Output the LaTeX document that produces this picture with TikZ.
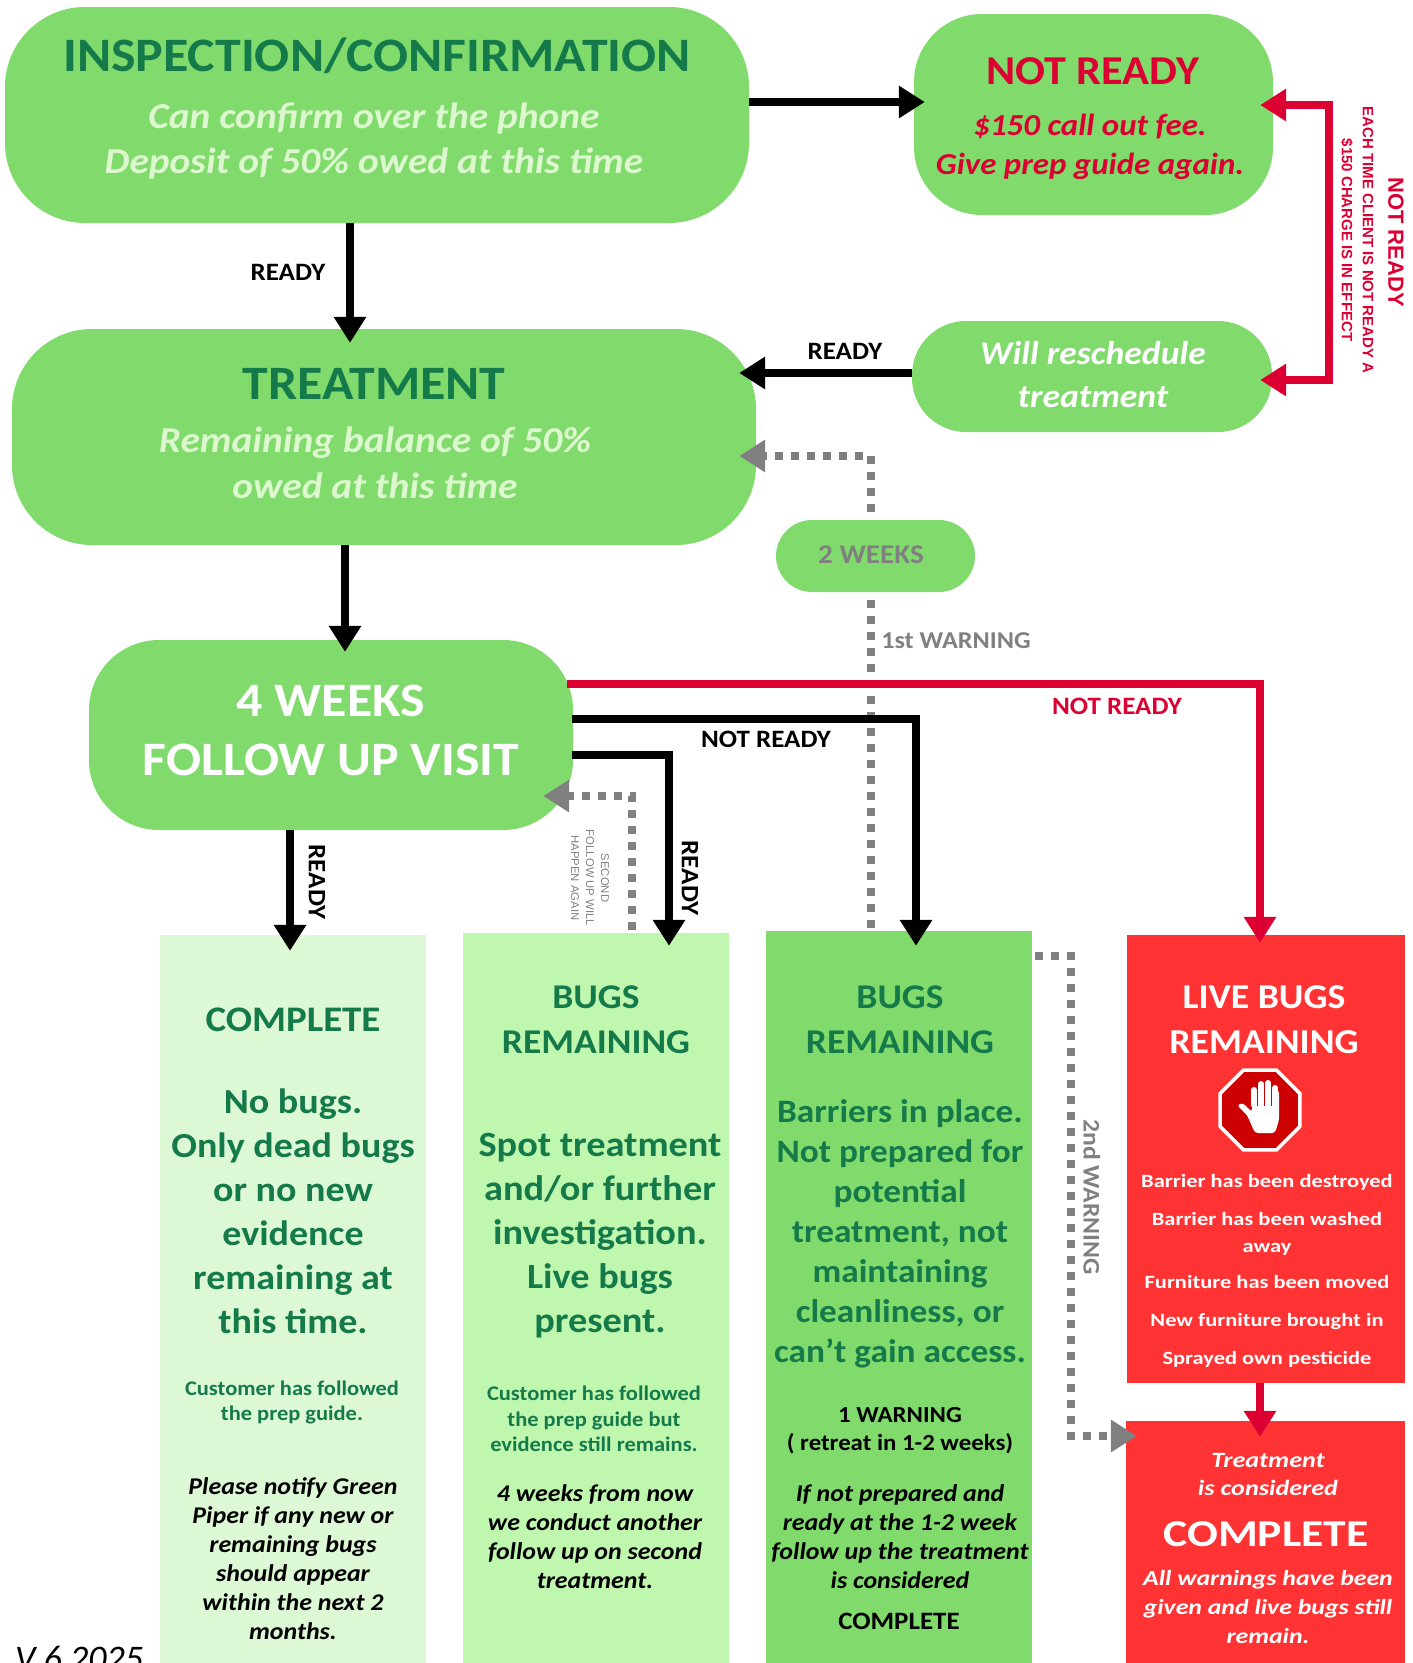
\documentclass[tikz,border=0pt]{standalone}
\usepackage{fontspec}
\setmainfont{Carlito}[BoldFeatures={FakeStretch=1.08},BoldItalicFeatures={FakeStretch=1.08}]
\newfontfamily\widefont[FakeStretch=1.2]{Carlito}
\newfontfamily\arialfont{Liberation Sans}
\usetikzlibrary{arrows.meta,shapes.geometric}
\definecolor{boxgreen}{HTML}{80DB6C}
\definecolor{palegreen}{HTML}{DDF8D5}
\definecolor{midgreen}{HTML}{BFF7AE}
\definecolor{boxred}{HTML}{FF3333}
\definecolor{darkgreen}{HTML}{157A4A}
\definecolor{softgreen}{HTML}{DDF8CF}
\definecolor{linered}{HTML}{DC0032}
\definecolor{linegray}{HTML}{808080}
\newcommand{\fsz}[2]{\fontsize{#1}{#2}\selectfont}
\tikzset{
  flowbox/.style={fill=boxgreen, inner sep=0pt},
  colbox/.style={inner sep=0pt},
  txt/.style={align=center, inner sep=0pt, font=\bfseries},
  blackline/.style={line width=8pt, black, -{Triangle[length=26pt,width=31pt]}},
  redline/.style={line width=7.5pt, linered, -{Triangle[length=26pt,width=31pt]}},
  grayline/.style={line width=7.5pt, linegray, dash pattern=on 7.5pt off 8.5pt, -{Triangle[length=26pt,width=31pt]}},
  lab/.style={inner sep=0pt, font=\bfseries\fsz{25}{25}},
}
\begin{document}
\begin{tikzpicture}[x=1pt,y=-1pt]
    \useasboundingbox (0,0) rectangle (1413,1663);

    % Boxes
    \node[flowbox, rounded corners=80pt, minimum width=744pt, minimum height=216pt] (inspect) at (377,115) {};
    \node[flowbox, rounded corners=68pt, minimum width=359pt, minimum height=201pt] (notready) at (1093.5,114.5) {};
    \node[flowbox, rounded corners=54pt, minimum width=360pt, minimum height=111pt] (resched) at (1092,376.5) {};
    \node[flowbox, rounded corners=80pt, minimum width=744pt, minimum height=216pt] (treat) at (384,437) {};
    \node[flowbox, rounded corners=70pt, minimum width=484pt, minimum height=190pt] (fourweeks) at (331,735) {};
    \node[colbox, fill=palegreen, minimum width=266pt, minimum height=728pt] (complete) at (293,1299) {};
    \node[colbox, fill=midgreen, minimum width=266pt, minimum height=730pt] (bugsa) at (596,1298) {};
    \node[colbox, fill=boxgreen, minimum width=266pt, minimum height=732pt] (bugsb) at (899,1297) {};
    \node[colbox, fill=boxred, minimum width=278pt, minimum height=448pt] (live) at (1266,1159) {};
    \node[colbox, fill=boxred, minimum width=279pt, minimum height=242pt] (final) at (1265.5,1542) {};

    % Gray arrows
    \draw[grayline] ([xshift=-28pt,yshift=3pt]bugsb.north) |- ([xshift=-17pt,yshift=-19pt]treat.east);
    \draw[grayline] ([xshift=36pt,yshift=3pt]bugsa.north) |- ([xshift=-30pt,yshift=-61pt]fourweeks.east);
    \coordinate (warnbend) at (1071,956);
    \draw[grayline] ([yshift=341pt,xshift=3pt]bugsb.east) -- (warnbend) |- ([xshift=11pt,yshift=106pt]final.west);
    \node[flowbox, rounded corners=36pt, minimum width=199pt, minimum height=72pt] (twoweeks) at (875.5,556) {};

    % Arrows
    \draw[blackline] ([yshift=13pt]inspect.east) -- ([xshift=11pt,yshift=12.5pt]notready.west);
    \draw[blackline] ([xshift=-27pt]inspect.south) -- ([xshift=-34pt,yshift=-14pt]treat.north);
    \draw[blackline] ([yshift=3.5pt]resched.west) -- ([xshift=-17pt,yshift=64pt]treat.east);
    \draw[blackline] ([xshift=-39pt]treat.south) -- ([xshift=14pt,yshift=-12pt]fourweeks.north);
    \draw[blackline] ([xshift=-41pt]fourweeks.south) -- ([xshift=-3pt,yshift=-16pt]complete.north);
    \draw[redline] ([xshift=-6pt,yshift=51pt]fourweeks.east) -| ([xshift=-6pt,yshift=-8pt]live.north);
    \draw[blackline] ([xshift=-1pt,yshift=16pt]fourweeks.east) -| ([xshift=17pt,yshift=-15pt]bugsb.north);
    \draw[blackline] ([xshift=-1pt,yshift=-20pt]fourweeks.east) -| ([xshift=73pt,yshift=-13pt]bugsa.north);
    \draw[redline] ([xshift=-6pt]live.south) -- ([xshift=-5.5pt,yshift=-16pt]final.north);
    \coordinate (bendtop) at (1329,105);
    \coordinate (bendbot) at (1329,380);
    \draw[redline, {Triangle[length=26pt,width=31pt]}-{Triangle[length=26pt,width=31pt]}] ([xshift=-13pt,yshift=9.5pt]notready.east) -- (bendtop) -- (bendbot) -- ([xshift=-12pt,yshift=-3.5pt]resched.east);

    % Labels
    \node[txt, text=darkgreen, font=\bfseries\fsz{48}{48}] (inspecttitle) at (377,56) {INSPECTION/CONFIRMATION};
    \node[txt, text=softgreen, font=\bfseries\itshape\fsz{36.5}{45}] (inspecttext) at (374,141) {Can confirm over the phone\\Deposit of 50\% owed at this time};
    \node[txt, text=linered, font=\bfseries\fsz{41}{41}] (notreadytitle) at (1093,71) {NOT READY};
    \node[txt, text=linered, font=\bfseries\itshape\fsz{30.5}{39}] (notreadytext) at (1090,146.5) {\$150 call out fee.\\Give prep guide again.};
    \node[txt, text=white, font=\bfseries\itshape\fsz{33}{43}] (reschedtext) at (1093,375) {Will reschedule\\treatment};
    \node[txt, text=darkgreen, font=\bfseries\fsz{48}{48}] (treattitle) at (374,384) {TREATMENT};
    \node[txt, text=softgreen, font=\bfseries\itshape\fsz{36.5}{46}] (treattext) at (375,463) {Remaining balance of 50\%\\owed at this time};
    \node[txt, text=linegray, font=\bfseries\fsz{27}{27}] (twoweekstext) at (871,555) {2 WEEKS};
    \node[txt, text=white, font=\bfseries\fsz{48}{59}] (fourweekstext) at (331,730) {4 WEEKS\\FOLLOW UP VISIT};

    \node[lab] (readya) at (288,272) {READY};
    \node[lab] (readyb) at (845,351) {READY};
    \node[lab, text=linered, font=\bfseries\arialfont\fsz{22}{22}, rotate=-90] (sidetitle) at (1396,242) {NOT READY};
    \node[txt, text=linered, font=\bfseries\arialfont\fsz{15}{21}, rotate=-90] (sidetext) at (1357,240) {EACH TIME CLIENT IS NOT READY A\\\$150 CHARGE IS IN EFFECT};
    \node[lab, text=linegray, font=\bfseries\fsz{24.2}{24.2}] (firstwarn) at (956,641) {1st WARNING};
    \node[lab, text=linered] (readyc) at (1117,706) {NOT READY};
    \node[lab] (readyd) at (766,739) {NOT READY};
    \node[lab, rotate=-90] (readye) at (317,882) {READY};
    \node[lab, rotate=-90] (readyf) at (690,878) {READY};
    \node[txt, text=linegray, font=\arialfont\fsz{11.3}{15}, rotate=-90] (secondtext) at (590,878) {SECOND\\FOLLOW UP WILL\\HAPPEN AGAIN};
    \node[lab, text=linegray, font=\bfseries\fsz{23.8}{23.8}, rotate=-90] (secondwarn) at (1092,1197) {2nd WARNING};

    % First column
    \node[txt, text=darkgreen, font=\bfseries\fsz{36}{36}] (ctitle) at (293,1020) {COMPLETE};
    \node[txt, text=darkgreen, font=\bfseries\fsz{35.2}{44}] (cmain) at (293,1211) {No bugs.\\Only dead bugs\\or no new\\evidence\\remaining at\\this time.};
    \node[txt, text=darkgreen, font=\bfseries\fsz{20.8}{25}] (csub) at (292,1402) {Customer has followed\\the prep guide.};
    \node[txt, text=black, font=\bfseries\itshape\fsz{24}{29}] (cnote) at (293,1559) {Please notify Green\\Piper if any new or\\remaining bugs\\should appear\\within the next 2\\months.};

    % Second column
    \node[txt, text=darkgreen, font=\bfseries\fsz{34.7}{45}] (atitle) at (596,1020) {BUGS\\REMAINING};
    \node[txt, text=darkgreen, font=\bfseries\fsz{35.5}{44}] (amain) at (600,1236) {Spot treatment\\and/or further\\investigation.\\Live bugs\\present.};
    \node[txt, text=darkgreen, font=\bfseries\fsz{20.8}{25.5}] (asub) at (594,1419) {Customer has followed\\the prep guide but\\evidence still remains.};
    \node[txt, text=black, font=\bfseries\itshape\fsz{24}{29}] (anote) at (595,1537) {4 weeks from now\\we conduct another\\follow up on second\\treatment.};

    % Third column
    \node[txt, text=darkgreen, font=\bfseries\fsz{34.7}{45}] (btitle) at (900,1020) {BUGS\\REMAINING};
    \node[txt, text=darkgreen, font=\bfseries\fsz{32.7}{40}] (bmain) at (900,1234) {Barriers in place.\\Not prepared for\\potential\\treatment, not\\maintaining\\cleanliness, or\\can’t gain access.};
    \node[txt, text=black, font=\bfseries\fsz{23}{28}] (bwarn) at (900,1431) {1 WARNING\\( retreat in 1-2 weeks)};
    \node[txt, text=black, font=\bfseries\itshape\fsz{24}{29}] (bnote) at (900,1537) {If not prepared and\\ready at the 1-2 week\\follow up the treatment\\is considered};
    \node[txt, text=black, font=\bfseries\fsz{25}{25}] (bdone) at (899,1621) {COMPLETE};

    % Fourth column
    \node[txt, text=white, font=\bfseries\fsz{34.9}{45}] (livetitle) at (1264,1020) {LIVE BUGS\\REMAINING};
    \node[regular polygon, regular polygon sides=8, fill=white, minimum size=90pt, inner sep=0pt] (stopout) at (1260,1110) {};
    \node[regular polygon, regular polygon sides=8, fill=red!80!black, minimum size=82pt, inner sep=0pt] (stopin) at (1260,1110) {};
    \fill[white, rounded corners=3pt] (1247,1115) -- (1255,1133) -- (1275,1133) -- (1279,1120) -- (1279,1090) -- (1252,1090) -- (1252,1112) -- (1243,1103) -- (1237,1105) -- cycle;
    \foreach \fingerx/\fingery in {1254/1090,1261/1084,1268/1083,1275/1088}
      \draw[line width=6pt, white, line cap=round] (\fingerx,1105) -- (\fingerx,\fingery);
    \foreach \fingerx in {1257.5,1264.5,1271.5}
      \draw[line width=.8pt, red!80!black] (\fingerx,1086) -- (\fingerx,1106);
    \node[txt, text=white, font=\bfseries\widefont\fsz{18.7}{27}] (livetext) at (1267,1271) {Barrier has been destroyed\\[11pt]Barrier has been washed\\away\\[9pt]Furniture has been moved\\[11pt]New furniture brought in\\[11pt]Sprayed own pesticide};

    % Bottom box
    \node[txt, text=white, font=\bfseries\itshape\widefont\fsz{21.8}{28}] (finaltop) at (1268,1474) {Treatment\\is considered};
    \node[txt, text=white, font=\bfseries\widefont\fsz{38}{38}] (finaltitle) at (1266,1534) {COMPLETE};
    \node[txt, text=white, font=\bfseries\itshape\widefont\fsz{21.5}{29}] (finaltext) at (1268,1607) {All warnings have been\\given and live bugs still\\remain.};

    % Version
    \node[inner sep=0pt, font=\itshape\fsz{36}{36}, anchor=west] (version) at (15,1658) {V 6 2025};
\end{tikzpicture}
\end{document}
